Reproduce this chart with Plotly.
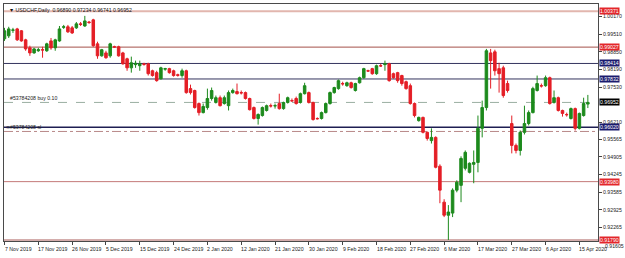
import plotly.graph_objects as go

# ---- data ----
opens = [0.9934,0.9945,0.9966,0.9971,0.9964,0.9930,0.9900,0.9881,0.9889,0.9893,
         0.9889,0.9926,0.9900,0.9926,0.9977,0.9979,0.9975,0.9975,0.9990,0.9982,
         0.9997,1.0005,0.9915,0.9870,0.9881,0.9870,0.9904,0.9904,0.9881,0.9859,
         0.9825,0.9837,0.9833,0.9840,0.9840,0.9814,0.9807,0.9784,0.9820,0.9822,
         0.9814,0.9799,0.9796,0.9814,0.9747,0.9740,0.9691,0.9657,0.9676,0.9710,
         0.9695,0.9713,0.9691,0.9683,0.9732,0.9736,0.9732,0.9732,0.9710,0.9676,
         0.9635,0.9646,0.9665,0.9683,0.9682,0.9691,0.9672,0.9695,0.9702,0.9710,
         0.9695,0.9728,0.9732,0.9695,0.9635,0.9635,0.9657,0.9691,0.9732,0.9747,
         0.9766,0.9758,0.9769,0.9740,0.9769,0.9788,0.9814,0.9822,0.9803,0.9833,
         0.9837,0.9840,0.9803,0.9807,0.9796,0.9773,0.9758,0.9691,0.9627,0.9639,
         0.9583,0.9552,0.9564,0.9456,0.9321,0.9272,0.9280,0.9366,0.9384,0.9448,
         0.9433,0.9463,0.9470,0.9598,0.9676,0.9881,0.9885,0.9822,0.9825,0.9766,
         0.9616,0.9534,0.9515,0.9583,0.9616,0.9657,0.9740,0.9758,0.9758,0.9788,
         0.9695,0.9713,0.9665,0.9650,0.9635,0.9672,0.9598,0.9646,0.96890]
highs = [0.9975,0.9979,0.9975,0.9975,0.9967,0.9934,0.9908,0.9900,0.9900,0.9904,
         0.9919,0.9937,0.9934,0.9982,0.9986,0.9986,0.9982,0.9997,0.9997,1.0020,
         1.0001,1.0009,0.9923,0.9896,0.9889,0.9919,0.9908,0.9908,0.9885,0.9863,
         0.9867,0.9852,0.9852,0.9844,0.9844,0.9818,0.9814,0.9829,0.9825,0.9825,
         0.9818,0.9803,0.9822,0.9818,0.9762,0.9743,0.9695,0.9691,0.9747,0.9751,
         0.9721,0.9721,0.9721,0.9740,0.9747,0.9766,0.9740,0.9736,0.9713,0.9680,
         0.9654,0.9680,0.9687,0.9691,0.9691,0.9728,0.9698,0.9717,0.9710,0.9717,
         0.9732,0.9769,0.9736,0.9698,0.9639,0.9661,0.9695,0.9736,0.9754,0.9781,
         0.9773,0.9773,0.9773,0.9769,0.9792,0.9825,0.9818,0.9825,0.9837,0.9840,
         0.9852,0.9844,0.9807,0.9810,0.9799,0.9777,0.9766,0.9695,0.9642,0.9642,
         0.9586,0.9598,0.9568,0.9463,0.9332,0.9310,0.9373,0.9403,0.9493,0.9515,
         0.9470,0.9515,0.9646,0.9702,0.9896,0.9896,0.9893,0.9844,0.9833,0.9777,
         0.9646,0.9541,0.9590,0.9683,0.9665,0.9754,0.9796,0.9766,0.9796,0.9792,
         0.9740,0.9717,0.9668,0.9657,0.9676,0.9676,0.9657,0.9713,0.97234]
lows = [0.9926,0.9937,0.9956,0.9926,0.9923,0.9889,0.9870,0.9878,0.9885,0.9863,
        0.9885,0.9893,0.9889,0.9923,0.9971,0.9956,0.9952,0.9971,0.9982,0.9979,
        0.9990,0.9904,0.9859,0.9867,0.9859,0.9863,0.9900,0.9867,0.9837,0.9814,
        0.9807,0.9825,0.9814,0.9833,0.9796,0.9792,0.9773,0.9781,0.9814,0.9803,
        0.9792,0.9792,0.9788,0.9728,0.9725,0.9672,0.9646,0.9654,0.9668,0.9702,
        0.9691,0.9680,0.9687,0.9665,0.9728,0.9725,0.9725,0.9706,0.9665,0.9631,
        0.9612,0.9642,0.9661,0.9676,0.9672,0.9668,0.9668,0.9691,0.9698,0.9687,
        0.9691,0.9725,0.9691,0.9627,0.9631,0.9631,0.9654,0.9687,0.9728,0.9743,
        0.9758,0.9754,0.9747,0.9736,0.9766,0.9784,0.9810,0.9799,0.9799,0.9829,
        0.9814,0.9773,0.9784,0.9769,0.9758,0.9743,0.9687,0.9639,0.9623,0.9579,
        0.9552,0.9541,0.9448,0.9317,0.9265,0.9179,0.9265,0.9358,0.9321,0.9440,
        0.9429,0.9392,0.9433,0.9564,0.9665,0.9747,0.9796,0.9732,0.9713,0.9732,
        0.9504,0.9504,0.9496,0.9575,0.9609,0.9654,0.9736,0.9751,0.9754,0.9687,
        0.9691,0.9661,0.9642,0.9642,0.9631,0.9590,0.9594,0.9642,0.96741]
closes = [0.9964,0.9971,0.9967,0.9930,0.9926,0.9896,0.9881,0.9896,0.9893,0.9892,
          0.9915,0.9900,0.9930,0.9971,0.9979,0.9960,0.9956,0.9990,0.9988,1.0001,
          0.9995,0.9908,0.9870,0.9893,0.9863,0.9915,0.9903,0.9870,0.9840,0.9825,
          0.9844,0.9842,0.9840,0.9838,0.9803,0.9796,0.9777,0.9825,0.9822,0.9807,
          0.9796,0.9797,0.9814,0.9732,0.9732,0.9676,0.9657,0.9680,0.9710,0.9740,
          0.9713,0.9683,0.9713,0.9732,0.9740,0.9728,0.9731,0.9710,0.9668,0.9635,
          0.9650,0.9676,0.9683,0.9682,0.9683,0.9672,0.9695,0.9713,0.9701,0.9691,
          0.9728,0.9758,0.9695,0.9631,0.9634,0.9657,0.9691,0.9732,0.9751,0.9777,
          0.9765,0.9769,0.9751,0.9766,0.9788,0.9822,0.9813,0.9803,0.9833,0.9832,
          0.9840,0.9777,0.9788,0.9777,0.9766,0.9747,0.9691,0.9646,0.9639,0.9583,
          0.9560,0.9564,0.9452,0.9366,0.9272,0.9284,0.9366,0.9396,0.9485,0.9508,
          0.9467,0.9470,0.9598,0.9676,0.9889,0.9852,0.9814,0.9803,0.9721,0.9740,
          0.9534,0.9515,0.9583,0.9616,0.9657,0.9747,0.9766,0.9757,0.9788,0.9691,
          0.9713,0.9665,0.9654,0.9649,0.9672,0.9598,0.9654,0.9691,0.96952]

date_tick_bars = [0, 8, 16, 24, 32, 40, 48, 56, 64, 72, 80, 88, 96, 104, 112, 120, 128, 136]
date_tick_labels = ["7 Nov 2019", "17 Nov 2019", "26 Nov 2019", "5 Dec 2019", "15 Dec 2019",
                    "24 Dec 2019", "2 Jan 2020", "12 Jan 2020", "21 Jan 2020", "30 Jan 2020",
                    "9 Feb 2020", "18 Feb 2020", "27 Feb 2020", "6 Mar 2020", "17 Mar 2020",
                    "27 Mar 2020", "6 Apr 2020", "15 Apr 2020"]
price_ticks = [1.00170, 0.99510, 0.98850, 0.98190, 0.97530, 0.96210,
               0.95565, 0.94905, 0.94245, 0.93585, 0.92925, 0.92265]
bottom_tick = 0.91605
y_range = [0.91753, 1.00645]

level_prices = [1.00371, 0.99027, 0.98414, 0.97832, 0.96020, 0.93980, 0.91790]
level_colors = ["#e2b6ae", "#a4504a", "#34345e", "#34345e", "#1e1e52", "#c47a78", "#a85a58"]
level_widths = [2, 1, 1, 1, 1.5, 1, 1]
level_box = ["#e3262b", "#e3262b", "#1b1b6e", "#1b1b6e", "#1b1b6e", "#e3262b", "#e3262b"]

order_price = 0.96952
sl_price = 0.95863
header = "USDCHF,Daily  0.96890 0.97234 0.96741 0.96952"

FONT = "Liberation Sans"
FS = 5.2
idx = list(range(len(opens)))

fig = go.Figure()
fig.add_trace(go.Candlestick(
    x=idx, open=opens, high=highs, low=lows, close=closes,
    increasing=dict(line=dict(color="#1d8a1d", width=1), fillcolor="#1d8a1d"),
    decreasing=dict(line=dict(color="#e41e26", width=1), fillcolor="#e41e26"),
    whiskerwidth=0, showlegend=False, hoverinfo="skip"))

shapes = []
for p, c, w in zip(level_prices, level_colors, level_widths):
    shapes.append(dict(type="line", xref="paper", x0=0, x1=1, yref="y", y0=p, y1=p,
                       line=dict(color=c, width=w), layer="below"))
shapes.append(dict(type="line", xref="paper", x0=0, x1=1, yref="y", y0=order_price, y1=order_price,
                   line=dict(color="#9aaea2", width=1, dash="dash"), layer="below"))
shapes.append(dict(type="line", xref="paper", x0=0, x1=1, yref="y", y0=sl_price, y1=sl_price,
                   line=dict(color="#b88888", width=1, dash="dashdot"), layer="below"))

ann = []
for b, t in zip(date_tick_bars, date_tick_labels):
    ann.append(dict(x=b, y=0, xref="x", yref="paper", text=t, showarrow=False,
                    xanchor="left", yanchor="top", xshift=-2, yshift=-3,
                    font=dict(family=FONT, size=FS, color="#222")))
# bottom price label lies just below the plotted range
bottom_frac = (bottom_tick - y_range[0]) / (y_range[1] - y_range[0])
ann.append(dict(x=1, y=bottom_frac, xref="paper", yref="paper", text=f"{bottom_tick:.5f}",
                showarrow=False, xanchor="left", yanchor="middle", xshift=5, yshift=-1,
                font=dict(family=FONT, size=FS, color="#222")))
for p, bc in zip(level_prices, level_box):
    ann.append(dict(x=1, y=p, xref="paper", yref="y", text=f"{p:.5f}", showarrow=False,
                    xanchor="left", yanchor="middle", xshift=1, bgcolor=bc, borderpad=0,
                    font=dict(family=FONT, size=FS, color="white")))
ann.append(dict(x=1, y=order_price, xref="paper", yref="y", text=f"{order_price:.5f}", showarrow=False,
                xanchor="left", yanchor="middle", xshift=1, bgcolor="#000000", borderpad=0,
                font=dict(family=FONT, size=FS, color="white")))
ann.append(dict(x=0, y=1, xref="paper", yref="paper", text="\u25bc " + header, showarrow=False,
                xanchor="left", yanchor="top", xshift=3, yshift=-1,
                font=dict(family=FONT, size=FS, color="#111")))
ann.append(dict(x=0, y=order_price, xref="paper", yref="y", text="#53784208 buy 0.10", showarrow=False,
                xanchor="left", yanchor="bottom", xshift=4, yshift=-1,
                font=dict(family=FONT, size=FS, color="#222")))
ann.append(dict(x=0, y=sl_price, xref="paper", yref="y", text="\u2283#53784208 sl", showarrow=False,
                xanchor="left", yanchor="bottom", xshift=0, yshift=-1,
                font=dict(family=FONT, size=FS, color="#222")))

fig.update_layout(
    width=625, height=258, margin=dict(l=3, r=22, t=3, b=17),
    paper_bgcolor="white", plot_bgcolor="white", boxgap=0.15,
    shapes=shapes, annotations=ann,
    xaxis=dict(range=[-0.12, 140.4], tickvals=date_tick_bars, showticklabels=False,
               ticks="outside", ticklen=3, tickcolor="#444", showgrid=False, zeroline=False,
               showline=True, mirror=True, linecolor="#4a4a4a", linewidth=1,
               rangeslider=dict(visible=False), fixedrange=True),
    yaxis=dict(range=y_range, side="right", tickvals=price_ticks,
               ticktext=[f"{v:.5f}" for v in price_ticks], ticks="outside", ticklen=3,
               tickcolor="#444", tickfont=dict(family=FONT, size=FS, color="#222"),
               showgrid=False, zeroline=False, showline=True, mirror=True,
               linecolor="#4a4a4a", linewidth=1, fixedrange=True),
)

fig.write_html("out.html")
